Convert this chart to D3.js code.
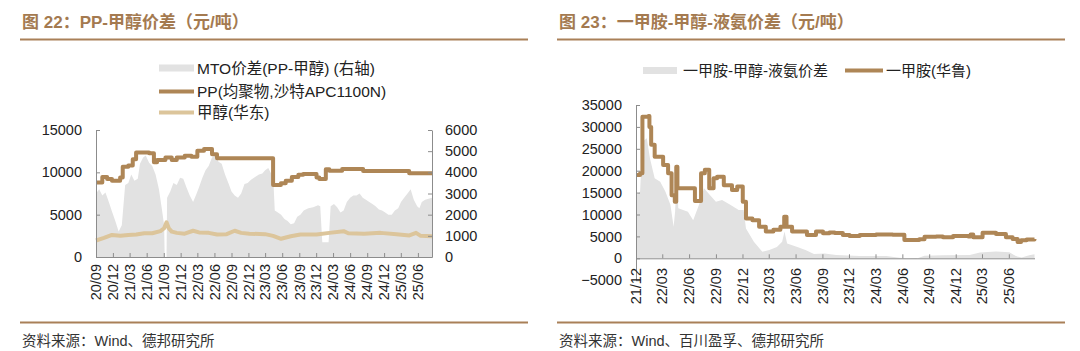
<!DOCTYPE html>
<html>
<head>
<meta charset="utf-8">
<script src="https://cdn.jsdelivr.net/npm/d3@7"></script>
<style>
  body { margin: 0; background: #fff; }
  svg text { font-family: "Liberation Sans", "Noto Sans CJK SC", sans-serif; }
</style>
</head>
<body>
<svg id="chart" width="1080" height="351"></svg>
<script>
// ---- chart 22 data ----
const leftTickLabels = ["20/09","20/12","21/03","21/06","21/09","21/12","22/03","22/06","22/09","22/12",
                        "23/03","23/06","23/09","23/12","24/03","24/06","24/09","24/12","25/03","25/06"];
const leftAxisTicks = [0, 5000, 10000, 15000];
const rightAxisTicks = [0, 1000, 2000, 3000, 4000, 5000, 6000];

// PP(均聚物,沙特APC1100N), step series
const ppSeries = [
  ["2020-09-01", 8800], ["2020-10-05", 9450], ["2020-10-31", 9200], ["2020-11-26", 9000],
  ["2021-01-09", 9400], ["2021-01-23", 10650], ["2021-02-22", 10800], ["2021-03-18", 11550],
  ["2021-04-05", 12350], ["2021-06-14", 12250], ["2021-07-10", 11200], ["2021-07-27", 11450],
  ["2021-09-10", 11750], ["2021-10-14", 11450], ["2021-11-10", 11750], ["2021-12-23", 11950],
  ["2022-01-28", 11850], ["2022-03-01", 12550], ["2022-04-06", 12750], ["2022-05-19", 12150],
  ["2022-06-15", 11650], ["2023-04-13", 8500], ["2023-05-25", 8700], ["2023-06-20", 9000],
  ["2023-07-23", 9450], ["2023-08-27", 9700], ["2023-09-22", 9800], ["2023-12-03", 9400],
  ["2023-12-18", 9200], ["2024-01-22", 10350], ["2024-02-10", 10200], ["2024-04-19", 10400],
  ["2024-08-10", 10150], ["2025-04-15", 9900], ["2025-08-16", 9900]
];

// 甲醇(华东)
const methanolSeries = [
  ["2020-09-01", 1950], ["2020-10-14", 2250], ["2020-11-26", 2600], ["2021-01-10", 2500],
  ["2021-02-22", 2600], ["2021-04-06", 2650], ["2021-05-19", 2800], ["2021-07-01", 2800],
  ["2021-08-14", 3050], ["2021-09-03", 3400], ["2021-09-16", 4100], ["2021-09-28", 3400],
  ["2021-10-14", 3000], ["2021-11-10", 2850], ["2021-12-23", 2750], ["2022-02-06", 3100],
  ["2022-03-10", 2900], ["2022-05-01", 2850], ["2022-06-15", 2650], ["2022-08-06", 2700],
  ["2022-09-18", 3100], ["2022-10-23", 2850], ["2022-12-06", 2750], ["2023-03-01", 2700],
  ["2023-04-13", 2500], ["2023-05-26", 2150], ["2023-07-17", 2450], ["2023-09-07", 2650],
  ["2023-12-03", 2650], ["2024-02-10", 2850], ["2024-04-27", 3050], ["2024-05-22", 2800],
  ["2024-08-16", 2750], ["2024-11-12", 2850], ["2025-02-06", 2700], ["2025-04-16", 2550],
  ["2025-05-22", 2850], ["2025-06-16", 2500], ["2025-08-16", 2450]
];

// MTO价差(PP-甲醇) (右轴)
const mtoSeries = [
  ["2020-09-01", 3000], ["2020-09-18", 3200], ["2020-10-05", 2900], ["2020-10-22", 3050],
  ["2020-11-09", 2600], ["2020-11-26", 2150], ["2020-12-14", 1700], ["2021-01-01", 1200],
  ["2021-01-18", 1500], ["2021-02-05", 3400], ["2021-02-22", 3500], ["2021-03-10", 3900],
  ["2021-03-27", 3600], ["2021-04-14", 3700], ["2021-04-26", 4400], ["2021-05-13", 4700],
  ["2021-05-27", 4800], ["2021-06-14", 4450], ["2021-07-01", 4300], ["2021-07-19", 3900],
  ["2021-08-06", 3200], ["2021-08-23", 2200], ["2021-09-03", 1500], ["2021-09-06", 0],
  ["2021-09-16", 0], ["2021-09-19", 2800], ["2021-10-06", 3100], ["2021-10-23", 3500],
  ["2021-11-10", 3400], ["2021-11-28", 3750], ["2021-12-15", 3700], ["2022-01-01", 3300],
  ["2022-01-19", 2900], ["2022-02-06", 2600], ["2022-02-23", 2950], ["2022-03-10", 3300],
  ["2022-03-28", 3750], ["2022-04-14", 4100], ["2022-05-01", 4300], ["2022-05-19", 4700],
  ["2022-06-06", 4800], ["2022-06-23", 4500], ["2022-07-10", 4400], ["2022-07-28", 3900],
  ["2022-08-15", 3500], ["2022-09-01", 3100], ["2022-09-18", 2900], ["2022-10-06", 2800],
  ["2022-10-23", 3000], ["2022-11-10", 3450], ["2022-11-27", 3500], ["2022-12-15", 3650],
  ["2023-01-10", 3800], ["2023-01-27", 3900], ["2023-02-14", 3950], ["2023-03-01", 4100],
  ["2023-03-18", 4200], ["2023-04-05", 3900], ["2023-04-15", 3500], ["2023-04-22", 2200],
  ["2023-05-09", 2100], ["2023-05-26", 2000], ["2023-06-13", 1800], ["2023-06-30", 1700],
  ["2023-07-17", 1550], ["2023-08-04", 1600], ["2023-08-21", 1900], ["2023-09-07", 2000],
  ["2023-09-25", 2200], ["2023-10-20", 2300], ["2023-11-15", 2350], ["2023-12-11", 2450],
  ["2023-12-23", 2400], ["2024-01-03", 700], ["2024-02-06", 700], ["2024-02-17", 2400],
  ["2024-03-06", 2500], ["2024-03-23", 2350], ["2024-04-10", 2100], ["2024-04-27", 2200],
  ["2024-05-14", 2600], ["2024-06-01", 2800], ["2024-06-18", 2900], ["2024-07-05", 2900],
  ["2024-07-22", 3000], ["2024-08-08", 2800], ["2024-08-25", 2700], ["2024-09-12", 2600],
  ["2024-09-29", 2500], ["2024-10-16", 2400], ["2024-11-03", 2250], ["2024-11-20", 2200],
  ["2024-12-07", 2100], ["2024-12-24", 2000], ["2025-01-11", 2000], ["2025-01-28", 2200],
  ["2025-02-15", 2300], ["2025-03-02", 2600], ["2025-03-19", 2800], ["2025-04-06", 3000],
  ["2025-04-23", 3200], ["2025-05-10", 2700], ["2025-05-28", 2400], ["2025-06-09", 2300],
  ["2025-06-22", 2600], ["2025-07-10", 2700], ["2025-08-16", 2800]
];

// ---- chart 23 data ----
const rightTickLabels = ["21/12","22/03","22/06","22/09","22/12","23/03","23/06","23/09",
                         "23/12","24/03","24/06","24/09","24/12","25/03","25/06"];
const mmaAxisTicks = [-5000, 0, 5000, 10000, 15000, 20000, 25000, 30000, 35000];

// 一甲胺(华鲁), step series
const mmaSeries = [
  ["2021-12-01", 19000], ["2021-12-15", 19400], ["2021-12-23", 32300], ["2022-01-13", 32500],
  ["2022-01-16", 30000], ["2022-01-22", 25900], ["2022-02-03", 23200], ["2022-03-04", 21300],
  ["2022-03-21", 19400], ["2022-04-02", 14400], ["2022-04-13", 12900], ["2022-04-18", 20900],
  ["2022-04-22", 16000], ["2022-06-21", 13100], ["2022-07-12", 19400], ["2022-07-25", 20200],
  ["2022-08-09", 16000], ["2022-08-24", 18300], ["2022-09-05", 18600], ["2022-09-28", 16700],
  ["2022-10-26", 15600], ["2022-11-13", 16400], ["2022-12-02", 12900], ["2022-12-13", 9100],
  ["2023-01-04", 8700], ["2023-01-27", 7200], ["2023-02-19", 6100], ["2023-03-17", 6500],
  ["2023-04-10", 7200], ["2023-04-23", 9500], ["2023-05-01", 7200], ["2023-05-20", 6100],
  ["2023-07-10", 5300], ["2023-08-10", 6100], ["2023-09-03", 5700], ["2023-09-25", 5900],
  ["2023-10-13", 5800], ["2023-11-10", 5300], ["2023-12-03", 5100], ["2024-01-07", 5300],
  ["2024-03-03", 5450], ["2024-04-29", 5350], ["2024-06-08", 4200], ["2024-07-29", 4350],
  ["2024-08-16", 4900], ["2024-09-25", 5000], ["2024-10-18", 4800], ["2024-11-22", 5100],
  ["2025-01-13", 5000], ["2025-01-21", 5450], ["2025-01-30", 4800], ["2025-03-03", 5850],
  ["2025-04-18", 5550], ["2025-05-22", 4800], ["2025-06-14", 4400], ["2025-07-01", 3700],
  ["2025-07-13", 4100], ["2025-08-01", 4300], ["2025-08-28", 4400]
];

// 一甲胺-甲醇-液氨价差
const mmaSpreadSeries = [
  ["2021-12-01", 14400], ["2021-12-15", 15200], ["2021-12-23", 26600], ["2022-01-07", 27400],
  ["2022-01-18", 22800], ["2022-02-03", 18300], ["2022-02-22", 17500], ["2022-03-12", 15200],
  ["2022-03-29", 12200], ["2022-04-09", 7200], ["2022-04-14", 10600], ["2022-04-20", 19000],
  ["2022-04-25", 11400], ["2022-05-28", 10600], ["2022-06-15", 8700], ["2022-07-05", 12200],
  ["2022-07-22", 16000], ["2022-08-12", 14400], ["2022-09-01", 12900], ["2022-09-22", 13300],
  ["2022-10-20", 12200], ["2022-11-18", 11000], ["2022-12-05", 11000], ["2022-12-13", 6800],
  ["2023-01-09", 3800], ["2023-02-07", 1500], ["2023-03-03", 1900], ["2023-03-29", 2600],
  ["2023-04-16", 3800], ["2023-04-24", 6100], ["2023-05-03", 3400], ["2023-06-07", 2600],
  ["2023-07-05", 1900], ["2023-08-03", 1000], ["2023-09-08", 1100], ["2023-10-18", 750],
  ["2024-01-07", 550], ["2024-04-07", 550], ["2024-05-22", 150], ["2024-07-18", -100],
  ["2024-08-16", 600], ["2024-10-18", 700], ["2025-01-18", 750], ["2025-02-22", 1300],
  ["2025-04-18", 1550], ["2025-06-03", 1400], ["2025-06-25", 500], ["2025-07-15", 200],
  ["2025-08-10", 700], ["2025-08-28", 900]
];

const parse = d3.timeParse("%Y-%m-%d");
const tickDate = s => parse("20" + s.slice(0, 2) + "-" + s.slice(3) + "-01");

const brown = "#ae8656", tan = "#dcc59b", grey = "#e2e2e2";
const ruleColor = "#a98058", titleColor = "#a47a50", axisColor = "#8c8c8c", textColor = "#222";

const svg = d3.select("#chart");

// title, rules and source line for one panel
function frame(x0, x1, title, source) {
  svg.append("text").attr("x", x0 + 2).attr("y", 27.5)
    .attr("font-size", "17px").attr("font-weight", "bold")
    .attr("fill", titleColor).text(title);
  svg.append("line").attr("x1", x0).attr("x2", x1).attr("y1", 39.5).attr("y2", 39.5)
    .attr("stroke", ruleColor).attr("stroke-width", 2);
  svg.append("line").attr("x1", x0).attr("x2", x1).attr("y1", 322.5).attr("y2", 322.5)
    .attr("stroke", ruleColor).attr("stroke-width", 2);
  svg.append("text").attr("x", x0 + 2).attr("y", 345.5)
    .attr("font-size", "14.5px").attr("fill", "#333").text(source);
}

function styleAxis(g) {
  g.select(".domain").attr("stroke", axisColor);
  g.selectAll(".tick line").attr("stroke", axisColor);
  g.selectAll(".tick text").attr("fill", textColor).attr("font-size", "14.5px")
    .attr("font-family", "Liberation Sans, sans-serif");
}

// rotated date labels under an axis
function dateLabels(x, labels, y0) {
  svg.append("g").selectAll("text")
    .data(labels)
    .enter()
    .append("text")
    .attr("transform", d => `translate(${x(tickDate(d))},${y0}) rotate(-90)`)
    .attr("text-anchor", "end")
    .attr("dy", "0.36em")
    .attr("font-size", "14.5px")
    .attr("fill", textColor)
    .text(d => d);
}

// ================= 图 22 =================
frame(20, 528, "图 22：PP-甲醇价差（元/吨）", "资料来源：Wind、德邦研究所");

let xL = d3.scaleTime().domain([parse("2020-09-01"), parse("2025-08-16")]).range([96, 432]);
let yL = d3.scaleLinear().domain([0, 15000]).range([257, 130]);
let yR = d3.scaleLinear().domain([0, 6000]).range([257, 130]);

svg.append("path")
  .datum(mtoSeries)
  .attr("d", d3.area().x(d => xL(parse(d[0]))).y0(yR(0)).y1(d => yR(d[1])))
  .attr("fill", grey);

svg.append("path")
  .datum(methanolSeries)
  .attr("d", d3.line().x(d => xL(parse(d[0]))).y(d => yL(d[1])))
  .attr("fill", "none").attr("stroke", tan).attr("stroke-width", 4)
  .attr("stroke-linejoin", "round");

svg.append("path")
  .datum(ppSeries)
  .attr("d", d3.line().curve(d3.curveStepAfter).x(d => xL(parse(d[0]))).y(d => yL(d[1])))
  .attr("fill", "none").attr("stroke", brown).attr("stroke-width", 4)
  .attr("stroke-linejoin", "round");

svg.append("g").attr("transform", "translate(96,0)")
  .call(d3.axisLeft(yL).tickValues(leftAxisTicks).tickFormat(d3.format("d"))
    .tickSizeInner(-4).tickSizeOuter(0).tickPadding(14))
  .call(styleAxis);

svg.append("g").attr("transform", "translate(432,0)")
  .call(d3.axisRight(yR).tickValues(rightAxisTicks).tickFormat(d3.format("d"))
    .tickSizeInner(-4).tickSizeOuter(0).tickPadding(13))
  .call(styleAxis);

svg.append("g").attr("transform", "translate(0,257)")
  .call(d3.axisBottom(xL).tickValues(leftTickLabels.map(tickDate)).tickFormat("")
    .tickSizeInner(-4).tickSizeOuter(0))
  .call(styleAxis);

dateLabels(xL, leftTickLabels, 264);

// legend (vertical)
let legL = svg.append("g").attr("transform", "translate(159,0)");
legL.append("rect").attr("x", 0).attr("y", 64.5).attr("width", 35).attr("height", 7).attr("fill", grey);
legL.append("line").attr("x1", 0).attr("x2", 35).attr("y1", 91.5).attr("y2", 91.5)
  .attr("stroke", brown).attr("stroke-width", 4);
legL.append("line").attr("x1", 0).attr("x2", 35).attr("y1", 112.5).attr("y2", 112.5)
  .attr("stroke", tan).attr("stroke-width", 4);
[["MTO价差(PP-甲醇) (右轴)", 68], ["PP(均聚物,沙特APC1100N)", 91.5], ["甲醇(华东)", 112.5]].forEach(([t, y]) => {
  legL.append("text").attr("x", 38).attr("y", y).attr("dy", "0.36em")
    .attr("font-size", "15.5px").attr("fill", textColor).text(t);
});

// ================= 图 23 =================
frame(557, 1065, "图 23：一甲胺-甲醇-液氨价差（元/吨）", "资料来源：Wind、百川盈孚、德邦研究所");

let x2 = d3.scaleTime().domain([parse("2021-12-01"), parse("2025-08-28")]).range([636, 1034.5]);
let y2 = d3.scaleLinear().domain([-5000, 35000]).range([280.2, 105]);

svg.append("path")
  .datum(mmaSpreadSeries)
  .attr("d", d3.area().x(d => x2(parse(d[0]))).y0(y2(0)).y1(d => y2(d[1])))
  .attr("fill", grey);

svg.append("path")
  .datum(mmaSeries)
  .attr("d", d3.line().curve(d3.curveStepAfter).x(d => x2(parse(d[0]))).y(d => y2(d[1])))
  .attr("fill", "none").attr("stroke", brown).attr("stroke-width", 4)
  .attr("stroke-linejoin", "round");

svg.append("g").attr("transform", "translate(636,0)")
  .call(d3.axisLeft(y2).tickValues(mmaAxisTicks).tickFormat(d3.format("d"))
    .tickSizeInner(-4).tickSizeOuter(0).tickPadding(14))
  .call(styleAxis);

svg.append("g").attr("transform", `translate(0,${y2(0)})`)
  .call(d3.axisBottom(x2).tickValues(rightTickLabels.map(tickDate)).tickFormat("")
    .tickSizeInner(-4).tickSizeOuter(0))
  .call(styleAxis);

dateLabels(x2, rightTickLabels, 268);

// legend (horizontal)
let legR = svg.append("g");
legR.append("rect").attr("x", 643).attr("y", 67).attr("width", 34).attr("height", 7).attr("fill", grey);
legR.append("text").attr("x", 683).attr("y", 70.5).attr("dy", "0.36em")
  .attr("font-size", "15px").attr("fill", textColor).text("一甲胺-甲醇-液氨价差");
legR.append("line").attr("x1", 845).attr("x2", 883).attr("y1", 70.5).attr("y2", 70.5)
  .attr("stroke", brown).attr("stroke-width", 4);
legR.append("text").attr("x", 886).attr("y", 70.5).attr("dy", "0.36em")
  .attr("font-size", "15px").attr("fill", textColor).text("一甲胺(华鲁)");
</script>
</body>
</html>
